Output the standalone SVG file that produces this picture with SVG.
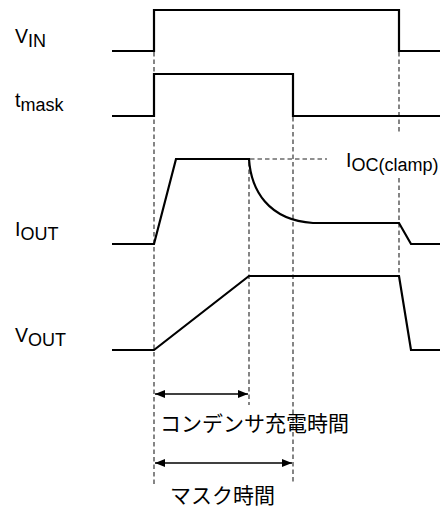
<svg xmlns="http://www.w3.org/2000/svg" width="440" height="511" viewBox="0 0 440 511">
<style>
.wave{fill:none;stroke:#000;stroke-width:2.2;stroke-linejoin:miter}
.dash{fill:none;stroke:#222;stroke-width:1.1;stroke-dasharray:4.5 3}
.dim{fill:none;stroke:#000;stroke-width:1.5}
.lbl{font-family:"Liberation Sans",Arial,sans-serif;font-size:19.5px;fill:#000}
.sub{font-size:18px}
.jp{font-family:"Noto Sans CJK JP","Noto Sans",sans-serif;font-size:21px;fill:#000}
</style>
<defs>
<marker id="ah" viewBox="0 0 10 8" refX="10" refY="4" markerWidth="10" markerHeight="8" markerUnits="userSpaceOnUse" orient="auto-start-reverse">
<path d="M0,0 L10,4 L0,8 Z" fill="#000"/>
</marker>
</defs>
<rect width="440" height="511" fill="#fff"/>
<g id="connectors">
<path class="dash" d="M154,52 V484"/>
<path class="dash" d="M293,117 V484"/>
<path class="dash" d="M249,162 V405"/>
<path class="dash" d="M399,52 V134 M399,178 V276"/>
<path class="dash" d="M250,159 H327"/>
<path class="dim" d="M155,394 H248" marker-start="url(#ah)" marker-end="url(#ah)"/>
<path class="dim" d="M155,463 H292" marker-start="url(#ah)" marker-end="url(#ah)"/>
</g>
<g id="vin">
<path class="wave" d="M112,51 H154 V10 H399 V51 H440"/>
<text class="lbl" x="15" y="43">V<tspan class="sub" dy="4">IN</tspan></text>
</g>
<g id="tmask">
<path class="wave" d="M112,116 H154 V74 H293 V116 H440"/>
<text class="lbl" x="15" y="107">t<tspan class="sub" dy="4">mask</tspan></text>
</g>
<g id="iout">
<path class="wave" d="M112,244 H154 L176,159 H249 C251,190 268,220 313,223 H399 L411,244 H440"/>
<text class="lbl" x="15" y="236">I<tspan class="sub" dy="4">OUT</tspan></text>
</g>
<g id="ioc">
<text class="lbl" x="346" y="166.5">I<tspan class="sub" dy="4">OC(clamp)</tspan></text>
</g>
<g id="vout">
<path class="wave" d="M112,350 H154 L249,276 H399 L411,350 H440"/>
<text class="lbl" x="15" y="342">V<tspan class="sub" dy="4">OUT</tspan></text>
</g>
<g id="charge-label">
<text class="jp" x="160" y="431">コンデンサ充電時間</text>
</g>
<g id="mask-label">
<text class="jp" x="170" y="503">マスク時間</text>
</g>
</svg>
